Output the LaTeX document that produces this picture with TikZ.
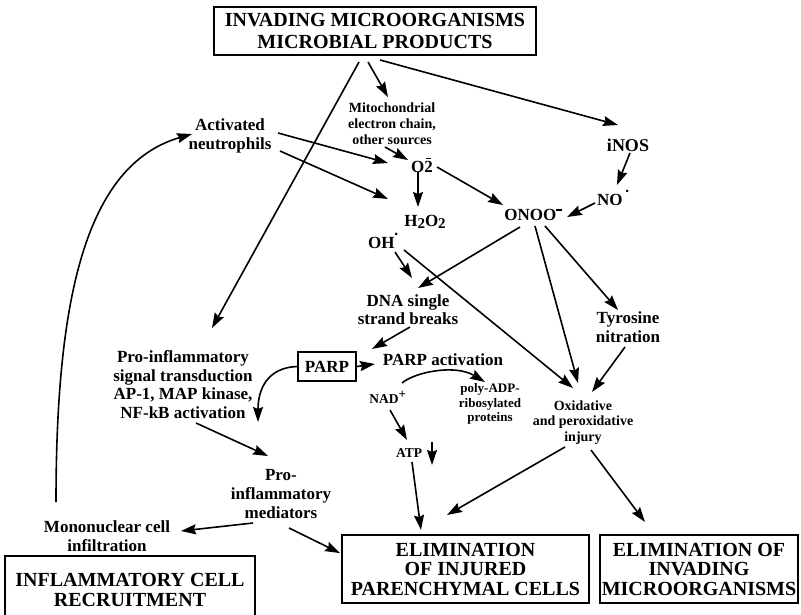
\documentclass[tikz,border=0pt]{standalone}
\usepackage{fontspec}
\setmainfont{Liberation Serif}
\usetikzlibrary{arrows.meta,calc}

% superoxide: O2 with a bar over the 2
\newcommand{\superox}{O\rlap{\raisebox{0.78em}{\hspace{0.12em}\rule{0.28em}{0.08em}}}2}
% lowered, slightly smaller digit two for H2O2
\newcommand{\lowtwo}{\lower1.5pt\hbox{\fontsize{15}{15}\selectfont 2}}
% raised charge and radical marks
\newcommand{\negch}{\raisebox{0.6em}{\rule{0.3em}{0.11em}}}
\newcommand{\rad}{\raisebox{0.62em}{\scalebox{0.55}{\textbullet}}}

\tikzset{
  lbl/.style={inner sep=0pt, align=center, font=\bfseries\fontsize{17}{18.5}\selectfont},
  lblsm/.style={inner sep=0pt, align=center, font=\bfseries\fontsize{14}{16}\selectfont},
  lblxs/.style={inner sep=0pt, align=center, font=\bfseries\fontsize{13}{14.5}\selectfont},
  bigbox/.style={draw, line width=1.8pt, inner sep=0pt, align=center,
                 font=\bfseries\fontsize{20}{19.5}\selectfont},
  arr/.style={line width=1.6pt, -{Stealth[length=15pt,width=10pt,inset=2pt]}},
}

\begin{document}
\begin{tikzpicture}[x=1pt,y=-1pt]
\clip (0,0) rectangle (801,614);

% ---- boxes ----
\node[bigbox, minimum width=322, minimum height=48,
      font=\bfseries\fontsize{20}{22}\selectfont] (top) at (375,31)
  {INVADING MICROORGANISMS\\MICROBIAL PRODUCTS};
\node[draw, line width=1.6pt, inner sep=0pt, minimum width=58, minimum height=29,
      font=\bfseries\fontsize{17}{18}\selectfont] (parp) at (327,366.5) {PARP};
\node[bigbox, minimum width=247, minimum height=68] (inj) at (465.5,569)
  {ELIMINATION\\OF INJURED\\PARENCHYMAL CELLS};
\node[bigbox, minimum width=198, minimum height=68] (inv) at (699,569)
  {ELIMINATION OF\\INVADING\\MICROORGANISMS};
\node[bigbox, minimum width=250, minimum height=68,
      font=\bfseries\fontsize{20}{20}\selectfont] (infl) at (130,590)
  {INFLAMMATORY CELL\\RECRUITMENT};

% ---- labels ----
\node[lblsm] (mito) at (392,124) {Mitochondrial\\electron chain,\\other sources};
\node[lbl, font=\bfseries\fontsize{17}{19}\selectfont] (neut) at (230,135.5) {Activated\\neutrophils};
\node[lbl] (o2) at (422,165) {\superox};
\node[lbl] (h2o2) at (425,222) {H\lowtwo O\lowtwo};
\node[lbl] (oh) at (383,241) {OH\rad};
\node[lbl] (onoo) at (533,215) {ONOO\negch};
\node[lbl, font=\bfseries\fontsize{18}{19}\selectfont] (inos) at (628,145) {iNOS};
\node[lbl] (no) at (613,198) {NO\,\rad};
\node[lbl, font=\bfseries\fontsize{17}{18}\selectfont] (dna) at (408,310) {DNA single\\strand breaks};
\node[lbl, font=\bfseries\fontsize{17}{19}\selectfont] (tyr) at (628,327.5) {Tyrosine\\nitration};
\node[lblsm, font=\bfseries\fontsize{14}{15.5}\selectfont] (oxi) at (583,422.5) {Oxidative\\and peroxidative\\injury};
\node[lbl] (parpact) at (443,360) {PARP activation};
\node[lbl] (signal) at (183,384.5) {Pro-inflammatory\\signal transduction\\AP-1, MAP kinase,\\NF-kB activation};
\node[lblxs, font=\bfseries\fontsize{13.5}{14}\selectfont] (nad) at (388,397) {NAD\textsuperscript{\fontsize{13}{13}\selectfont +}};
\node[lblxs] (poly) at (490,404) {poly-ADP-\\ribosylated\\proteins};
\node[lblxs, font=\bfseries\fontsize{13.5}{14}\selectfont] (atp) at (409,453) {ATP};
\node[lbl, font=\bfseries\fontsize{17}{19}\selectfont] (med) at (281,494) {Pro-\\inflammatory\\mediators};
\node[lbl] (mono) at (107,536) {Mononuclear cell\\infiltration};

% ---- connectors ----
\draw[arr] ($(top)+(-16,31)$) -- ($(signal)+(29,-56.5)$);
\draw[arr] ($(top)+(-7,31)$) -- ($(mito)+(-4,-27)$);
\draw[arr] ($(top)+(5,29)$) -- ($(inos)+(-10,-20)$);

\draw[arr] ($(neut)+(48,-2.5)$) -- ($(o2)+(-34,-2)$);
\draw[arr] ($(neut)+(50,15.5)$) -- ($(h2o2)+(-37,-23)$);

\draw[arr] ($(mito)+(-7,23)$) -- ($(o2)+(-14,-5)$);
\draw[arr] ($(o2)+(-4,7)$) -- ($(h2o2)+(-7,-15)$);
\draw[arr] ($(o2)+(15,2)$) -- ($(onoo)+(-30,-10)$);

\draw[arr] ($(inos)+(2,8)$) -- ($(no)+(4,-13)$);
\draw[arr] ($(no)+(-18,5)$) -- ($(onoo)+(34,2)$);

\draw[arr] ($(onoo)+(-13,12)$) -- ($(dna)+(10,-22)$);
\draw[arr] ($(onoo)+(2,11)$) -- ($(oxi)+(-5,-39.5)$);
\draw[arr] ($(onoo)+(12,11)$) -- ($(tyr)+(-10,-17.5)$);

\draw[arr] ($(oh)+(12,11)$) -- ($(dna)+(4,-32)$);
\draw[arr] ($(oh)+(21,9)$) -- ($(oxi)+(-10,-34.5)$);

\draw[arr] ($(tyr)+(-3,19.5)$) -- ($(oxi)+(9,-30.5)$);
\draw[arr] ($(dna)+(2,17)$) -- ($(parpact)+(-71,-11)$);
\draw[arr] (parp.east) -- ($(parpact)+(-68,4)$);

\draw[arr] (parp.west) .. controls ($(parp.west)+(-30,1)$) and ($(signal)+(75,5)$) .. ($(signal)+(75,37.5)$);
\draw[arr] ($(signal)+(13,38.5)$) -- ($(med)+(-13,-38)$);

\draw[arr] ($(med)+(-28,29)$) -- ($(mono)+(74,-5)$);
\draw[arr] ($(med)+(8,34)$) -- ($(inj.north west)+(-1,19)$);

\draw[arr] ($(mono)+(-51,-34)$) .. controls (56,300) and (85,165) .. ($(neut)+(-38,-1.5)$);

\draw[arr] ($(nad)+(2,13)$) -- ($(atp)+(-2,-13)$);
\draw[arr] ($(nad)+(14,-14)$) .. controls (415,372) and (455,364) .. ($(poly)+(-5,-22)$);
\draw[arr] ($(atp)+(3,9)$) -- ($(inj)+(-44.5,-39)$);
\draw[arr] ($(atp)+(23,-11)$) -- ($(atp)+(23,12)$);

\draw[arr] ($(oxi)+(-18,24.5)$) -- ($(inj)+(-18.5,-54)$);
\draw[arr] ($(oxi)+(8,27.5)$) -- ($(inv)+(-54,-47)$);
\end{tikzpicture}
\end{document}
